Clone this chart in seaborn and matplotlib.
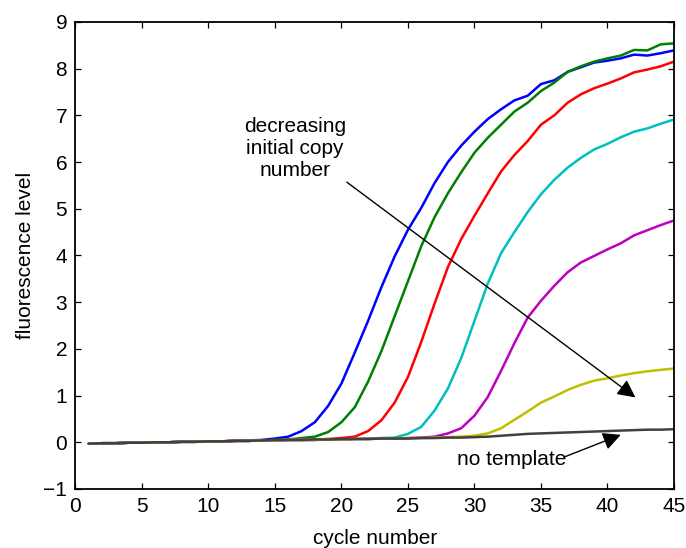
import numpy as np
import pandas as pd
import matplotlib
matplotlib.use("Agg")
import matplotlib.pyplot as plt
import seaborn as sns

cycles = list(range(1, 46))

blue = [-0.03, -0.02, -0.02, -0.01, -0.01, 0.0, 0.0, 0.01, 0.01, 0.02, 0.02, 0.03, 0.04, 0.05,
        0.08, 0.12, 0.24, 0.43, 0.78, 1.26, 1.92, 2.60, 3.32, 3.98, 4.55, 5.02, 5.55, 6.00,
        6.35, 6.65, 6.92, 7.13, 7.32, 7.42, 7.67, 7.75, 7.93, 8.03, 8.13, 8.17, 8.22, 8.30,
        8.28, 8.33, 8.39]
green = [-0.03, -0.02, -0.02, -0.01, -0.01, 0.0, 0.0, 0.01, 0.01, 0.02, 0.02, 0.03, 0.03, 0.04,
         0.05, 0.06, 0.09, 0.12, 0.22, 0.43, 0.75, 1.30, 1.95, 2.70, 3.45, 4.20, 4.82, 5.33,
         5.78, 6.20, 6.52, 6.80, 7.08, 7.27, 7.52, 7.70, 7.93, 8.05, 8.15, 8.22, 8.28, 8.40,
         8.39, 8.52, 8.54]
red = [-0.03, -0.02, -0.02, -0.01, -0.01, 0.0, 0.0, 0.01, 0.01, 0.02, 0.02, 0.03, 0.03, 0.04,
       0.04, 0.05, 0.05, 0.06, 0.07, 0.09, 0.12, 0.24, 0.47, 0.85, 1.40, 2.15, 2.97, 3.75,
       4.35, 4.85, 5.33, 5.80, 6.15, 6.45, 6.80, 7.00, 7.27, 7.45, 7.58, 7.68, 7.79, 7.92,
       7.98, 8.05, 8.15]
cyan = [-0.03, -0.02, -0.02, -0.01, -0.01, 0.0, 0.0, 0.01, 0.01, 0.02, 0.02, 0.03, 0.03, 0.04,
        0.04, 0.05, 0.05, 0.05, 0.06, 0.06, 0.07, 0.08, 0.09, 0.10, 0.18, 0.33, 0.68, 1.15,
        1.80, 2.60, 3.40, 4.05, 4.50, 4.93, 5.31, 5.62, 5.88, 6.09, 6.27, 6.39, 6.53, 6.65,
        6.72, 6.82, 6.91]
magenta = [-0.03, -0.02, -0.02, -0.01, -0.01, 0.0, 0.0, 0.01, 0.01, 0.02, 0.02, 0.03, 0.03, 0.04,
           0.04, 0.05, 0.05, 0.05, 0.06, 0.06, 0.07, 0.07, 0.08, 0.08, 0.09, 0.10, 0.12, 0.19,
           0.30, 0.57, 0.97, 1.53, 2.12, 2.67, 3.03, 3.35, 3.64, 3.85, 3.99, 4.13, 4.26, 4.43,
           4.54, 4.65, 4.75]
yellow = [-0.03, -0.02, -0.02, -0.01, -0.01, 0.0, 0.0, 0.01, 0.01, 0.02, 0.02, 0.03, 0.03, 0.04,
          0.04, 0.05, 0.05, 0.05, 0.06, 0.06, 0.07, 0.07, 0.08, 0.08, 0.09, 0.09, 0.10, 0.11,
          0.12, 0.14, 0.19, 0.30, 0.48, 0.66, 0.85, 0.98, 1.12, 1.23, 1.32, 1.37, 1.43, 1.48,
          1.52, 1.55, 1.58]
no_template = [-0.03, -0.02, -0.02, -0.01, -0.01, 0.0, 0.0, 0.01, 0.01, 0.02, 0.02, 0.03, 0.03, 0.04,
               0.05, 0.05, 0.05, 0.06, 0.06, 0.07, 0.07, 0.07, 0.08, 0.08, 0.08, 0.09, 0.09, 0.10,
               0.10, 0.11, 0.12, 0.14, 0.16, 0.18, 0.19, 0.20, 0.21, 0.22, 0.23, 0.24, 0.25, 0.26,
               0.27, 0.27, 0.28]

series_names = ["blue", "green", "red", "cyan", "magenta", "yellow", "no template"]
series_values = [blue, green, red, cyan, magenta, yellow, no_template]
series_colors = ["#0000ff", "#008000", "#ff0000", "#00bfbf", "#bf00bf", "#bfbf00", "#404040"]

xticks = list(range(0, 46, 5))
yticks = list(range(-1, 10))

df = pd.DataFrame({
    "cycle": np.tile(cycles, len(series_names)),
    "value": np.concatenate(series_values),
    "series": np.repeat(series_names, len(cycles)),
})

sns.set_style("ticks")
plt.rcParams["font.family"] = ["Liberation Sans", "DejaVu Sans"]
plt.rcParams["font.size"] = 15
plt.rcParams["text.color"] = "black"
plt.rcParams["axes.labelcolor"] = "black"
plt.rcParams["xtick.color"] = "black"
plt.rcParams["ytick.color"] = "black"

fig = plt.figure(figsize=(6.86, 5.48), dpi=100)
ax = fig.add_axes([0.110, 0.1077, 0.8725, 0.8523])

sns.lineplot(data=df, x="cycle", y="value", hue="series", hue_order=series_names,
             palette=dict(zip(series_names, series_colors)), linewidth=1.8,
             legend=False, ax=ax, sort=False)

ax.set_xlim(0, 45)
ax.set_ylim(-1, 9)
ax.set_xticks(xticks)
ax.set_yticks(yticks)
ax.tick_params(direction="in", length=4, width=0.9, top=True, right=True,
               labelsize=15, pad=6, colors="k", labelcolor="k")
for s in ax.spines.values():
    s.set_visible(True)
    s.set_linewidth(1.3)
    s.set_color("k")
ax.set_xlabel("cycle number", fontsize=15, labelpad=9, color="k")
ax.set_ylabel("fluorescence level", fontsize=15, labelpad=6, color="k")

ax.annotate("", xy=(42.1, 0.96), xytext=(20.4, 5.57),
            arrowprops=dict(arrowstyle="-|>,head_length=0.6,head_width=0.3",
                            mutation_scale=18, color="k", lw=1, shrinkA=0, shrinkB=0))
ax.text(16.5, 6.3, "decreasing\ninitial copy\nnumber", ha="center", va="center",
        multialignment="center", fontsize=15, color="k")

ax.annotate("", xy=(41.0, 0.16), xytext=(36.8, -0.31),
            arrowprops=dict(arrowstyle="-|>,head_length=0.6,head_width=0.3",
                            mutation_scale=18, color="k", lw=1, shrinkA=0, shrinkB=0))
ax.text(32.8, -0.36, "no template", ha="center", va="center", fontsize=15, color="k")

fig.savefig("out.png", dpi=100)
